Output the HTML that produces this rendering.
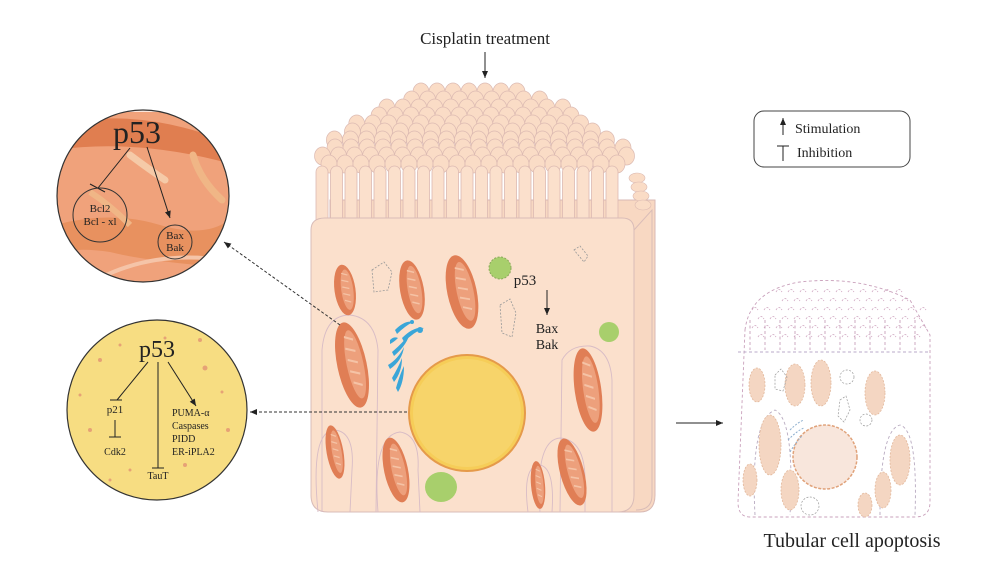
<!DOCTYPE html>
<html><head><meta charset="utf-8"><style>
html,body{margin:0;padding:0;background:#fff;width:998px;height:575px;overflow:hidden}
svg{display:block}
text{font-family:"Liberation Serif",serif;fill:#222}
</style></head><body>
<svg id="s" width="998" height="575" viewBox="0 0 998 575" xmlns="http://www.w3.org/2000/svg">
<defs>
<marker id="ah" markerWidth="8" markerHeight="8" refX="7" refY="4" orient="auto" markerUnits="userSpaceOnUse"><path d="M0,1 L7,4 L0,7 Z" fill="#222"/></marker>
<clipPath id="c1"><circle cx="143" cy="196" r="86"/></clipPath>
<g id="mito">
<ellipse cx="0" cy="0" rx="14" ry="30" fill="#e07e55"/>
<ellipse cx="3" cy="0" rx="8" ry="24" fill="#eda07c"/>
<path d="M-2,-20 l8,3 M-3,-12 l9,3 M-3,-4 l9,3 M-3,4 l9,3 M-2,12 l8,3" stroke="#f5c3a6" stroke-width="1.5"/>
</g>
</defs>

<text x="485" y="44" font-size="17" text-anchor="middle">Cisplatin treatment</text>
<line x1="485" y1="52" x2="485" y2="78" stroke="#222" stroke-width="1" marker-end="url(#ah)"/>

<path d="M330,200 L655,200 L655,495 Q655,512 640,512 L330,512 Z" fill="#f8d8c2" stroke="#d8b9b4"/>
<g id="villi"></g>
<path d="M311,230 Q311,218 325,218 L622,218 Q634,218 634,230 L634,495 Q634,512 618,512 L328,512 Q311,512 311,495 Z" fill="#fbe0cc" stroke="#d9bcb8"/>
<path d="M634,230 L652,210 L652,495 Q652,510 636,510" fill="none" stroke="#d9bcb8"/>
<g fill="none" stroke="#d8bcc6" stroke-width="0.9">
<path d="M322,512 L322,350 Q325,315 350,315 Q375,318 378,350 L376,512"/>
<path d="M318,512 Q310,430 335,430 Q355,432 352,470 L350,512"/>
<path d="M378,512 Q372,435 400,432 Q420,435 418,470 L420,512"/>
<path d="M560,512 L562,360 Q570,345 590,346 Q610,350 612,380 L612,512"/>
<path d="M540,512 Q535,440 560,438 Q585,440 585,480 L585,512"/>
<path d="M528,512 Q522,465 540,465 Q555,468 552,512"/>
</g>
<use href="#mito" transform="translate(345,290) rotate(-8) scale(0.75,0.85)"/>
<use href="#mito" transform="translate(412,290) rotate(-10) scale(0.85,1)"/>
<use href="#mito" transform="translate(462,292) rotate(-12) scale(1.05,1.25)"/>
<use href="#mito" transform="translate(352,365) rotate(-12) scale(1.05,1.45)"/>
<use href="#mito" transform="translate(588,390) rotate(-8) scale(0.95,1.4)"/>
<use href="#mito" transform="translate(335,452) rotate(-10) scale(0.6,0.9)"/>
<use href="#mito" transform="translate(396,470) rotate(-12) scale(0.85,1.1)"/>
<use href="#mito" transform="translate(572,472) rotate(-15) scale(0.85,1.15)"/>
<use href="#mito" transform="translate(538,485) rotate(-5) scale(0.5,0.8)"/>
<g fill="none" stroke="#999" stroke-width="0.8" stroke-dasharray="2,1.5">
<path d="M372,270 l12,-8 l8,10 l-4,18 l-14,2 z"/>
<path d="M500,305 l10,-6 l6,14 l-4,24 l-10,-4 z"/>
<path d="M574,250 l6,-4 l8,10 l-4,6 z"/>
</g>
<circle cx="500" cy="268" r="11" fill="#a8cf6c" stroke="#8aa85a" stroke-dasharray="2,1.5"/>
<circle cx="609" cy="332" r="10" fill="#a8cf6c"/>
<ellipse cx="441" cy="487" rx="16" ry="15" fill="#a8cf6c"/>
<g fill="#3aa6d8">
<path d="M395,330 q10,-10 18,-8 q-8,4 -16,12 z"/><path d="M402,338 q12,-12 22,-10 q-10,4 -20,14 z"/>
<path d="M390,340 q4,-4 8,-2 q-4,4 -8,6 z"/><path d="M392,352 q14,-12 18,-20 q-2,12 -16,24 z"/>
<path d="M388,365 q10,-6 16,-18 q-2,14 -14,22 z"/><path d="M392,378 q6,-10 10,-20 q0,14 -8,24 z"/>
<path d="M396,388 q4,-14 8,-22 q0,16 -6,26 z"/><circle cx="420" cy="330" r="3"/><circle cx="412" cy="322" r="2"/>
</g>
<circle cx="467" cy="413" r="58" fill="#f6cd58" stroke="#e59a4a" stroke-width="2"/>
<circle cx="467" cy="413" r="54" fill="#f7d46a"/>
<text x="525" y="285" font-size="15" text-anchor="middle">p53</text>
<line x1="547" y1="290" x2="547" y2="315" stroke="#222" marker-end="url(#ah)"/>
<text x="547" y="333" font-size="14" text-anchor="middle">Bax</text>
<text x="547" y="349" font-size="14" text-anchor="middle">Bak</text>

<line x1="340" y1="325" x2="224" y2="242" stroke="#333" stroke-dasharray="3,2" marker-end="url(#ah)"/>
<line x1="407" y1="412" x2="250" y2="412" stroke="#333" stroke-dasharray="3,2" marker-end="url(#ah)"/>

<g clip-path="url(#c1)">
<rect x="50" y="100" width="190" height="190" fill="#f0a27b"/>
<rect x="50" y="100" width="190" height="12" fill="#fbe6dc"/>
<path d="M55,125 Q140,105 235,145 L235,165 Q140,138 55,150 Z" fill="#e07e50"/>
<path d="M55,225 Q110,210 160,225 Q210,240 235,215 L235,268 Q150,262 110,252 Q70,246 55,256 Z" fill="#e8915f"/>
<path d="M100,278 Q160,248 235,262" stroke="#f5c4a8" stroke-width="4" fill="none"/>
<path d="M130,155 Q150,170 165,180" stroke="#f5caa8" stroke-width="7" fill="none" stroke-linecap="round"/>
<path d="M193,155 Q200,180 222,200" stroke="#f0b686" stroke-width="7" fill="none" stroke-linecap="round"/>
<path d="M90,192 Q110,205 130,225" stroke="#f0b686" stroke-width="6" fill="none"/>
</g>
<circle cx="143" cy="196" r="86" fill="none" stroke="#333" stroke-width="1.2"/>
<text x="137" y="143" font-size="32" text-anchor="middle">p53</text>
<line x1="130" y1="148" x2="98" y2="188" stroke="#222"/>
<line x1="90" y1="184" x2="105" y2="192" stroke="#222"/>
<line x1="147" y1="147" x2="170" y2="218" stroke="#222" marker-end="url(#ah)"/>
<circle cx="100" cy="215" r="27" fill="none" stroke="#333"/>
<text x="100" y="212" font-size="11" text-anchor="middle">Bcl2</text>
<text x="100" y="225" font-size="11" text-anchor="middle">Bcl - xl</text>
<circle cx="175" cy="242" r="17" fill="none" stroke="#333"/>
<text x="175" y="239" font-size="11" text-anchor="middle">Bax</text>
<text x="175" y="251" font-size="11" text-anchor="middle">Bak</text>

<circle cx="157" cy="410" r="90" fill="#f7dd82" stroke="#333" stroke-width="1.2"/>
<g fill="#e08a72" opacity="0.7">
<circle cx="100" cy="360" r="2"/><circle cx="120" cy="345" r="1.5"/><circle cx="205" cy="368" r="2.5"/><circle cx="222" cy="392" r="1.5"/><circle cx="90" cy="430" r="2"/><circle cx="185" cy="465" r="2"/><circle cx="130" cy="470" r="1.5"/><circle cx="228" cy="430" r="2"/><circle cx="80" cy="395" r="1.5"/><circle cx="165" cy="338" r="1.5"/><circle cx="200" cy="340" r="2"/><circle cx="110" cy="480" r="1.5"/>
</g>
<text x="157" y="357" font-size="24" text-anchor="middle">p53</text>
<line x1="148" y1="362" x2="117" y2="400" stroke="#222"/>
<line x1="110" y1="400" x2="122" y2="400" stroke="#222"/>
<line x1="158" y1="362" x2="158" y2="468" stroke="#222"/>
<line x1="152" y1="468" x2="164" y2="468" stroke="#222"/>
<line x1="168" y1="362" x2="196" y2="406" stroke="#222" marker-end="url(#ah)"/>
<text x="115" y="413" font-size="11" text-anchor="middle">p21</text>
<line x1="115" y1="420" x2="115" y2="437" stroke="#222"/>
<line x1="109" y1="437" x2="121" y2="437" stroke="#222"/>
<text x="115" y="455" font-size="10" text-anchor="middle">Cdk2</text>
<text x="158" y="479" font-size="10" text-anchor="middle">TauT</text>
<text x="172" y="416" font-size="10">PUMA-α</text>
<text x="172" y="429" font-size="10">Caspases</text>
<text x="172" y="442" font-size="10">PIDD</text>
<text x="172" y="455" font-size="10">ER-iPLA2</text>

<rect x="754" y="111" width="156" height="56" rx="10" fill="#fff" stroke="#444"/>
<line x1="783" y1="135" x2="783" y2="118" stroke="#222" marker-end="url(#ah)"/>
<text x="795" y="133" font-size="14">Stimulation</text>
<line x1="783" y1="146" x2="783" y2="161" stroke="#222"/><line x1="777" y1="146" x2="789" y2="146" stroke="#222"/>
<text x="797" y="157" font-size="14">Inhibition</text>

<line x1="676" y1="423" x2="723" y2="423" stroke="#222" marker-end="url(#ah)"/>

<g id="apo" fill="none" stroke-dasharray="3,2.5" stroke-width="0.9">
<path d="M745,330 Q750,290 800,282 Q860,275 910,300 L930,335 L930,502 Q930,517 915,517 L750,517 Q738,517 738,502 Z" stroke="#c9a0bb"/>
<path d="M738,352 L930,352" stroke="#b8a8c8"/>
<path d="M755,515 Q750,420 775,410 Q795,420 790,515" stroke="#b8aac0"/>
<path d="M880,515 Q880,430 900,425 Q918,430 915,515" stroke="#b8aac0"/>
</g>
<g fill="#f4d6c2" stroke="#e2b89c" stroke-width="0.8" stroke-dasharray="2,1.5">
<ellipse cx="757" cy="385" rx="8" ry="17"/><ellipse cx="795" cy="385" rx="10" ry="21"/><ellipse cx="821" cy="383" rx="10" ry="23"/>
<ellipse cx="875" cy="393" rx="10" ry="22"/><ellipse cx="770" cy="445" rx="11" ry="30"/><ellipse cx="900" cy="460" rx="10" ry="25"/>
<ellipse cx="750" cy="480" rx="7" ry="16"/><ellipse cx="790" cy="490" rx="9" ry="20"/><ellipse cx="883" cy="490" rx="8" ry="18"/><ellipse cx="865" cy="505" rx="7" ry="12"/>
</g>
<circle cx="825" cy="457" r="32" fill="#f8e6dc" stroke="#e0a27a" stroke-width="1.5" stroke-dasharray="3,1.5"/>
<g fill="none" stroke="#999" stroke-width="0.7" stroke-dasharray="2,1.5">
<circle cx="847" cy="377" r="7"/><circle cx="866" cy="420" r="6"/><circle cx="810" cy="506" r="9"/>
<path d="M775,375 l6,-6 l6,8 l-4,14 l-8,-2 z"/><path d="M840,400 l6,-4 l4,14 l-6,12 l-6,-6 z"/>
</g>
<g fill="none" stroke="#8fb0cf" stroke-width="1" stroke-dasharray="2,1.5"><path d="M790,430 q8,-8 14,-10 M788,440 q10,-10 16,-12 M790,452 q6,-10 12,-16"/></g>
<text x="852" y="547" font-size="20" text-anchor="middle">Tubular cell apoptosis</text>
</svg>
<script>
(function(){
var NS="http://www.w3.org/2000/svg",g=document.getElementById("villi"),a=document.getElementById("apo");
function el(t,at,p){var e=document.createElementNS(NS,t);for(var k in at)e.setAttribute(k,at[k]);p.appendChild(e);return e;}
for(var r=0;r<10;r++){
  var y=92+r*8;
  var t=r/9;
  var half=55+100*Math.sin(t*Math.PI/2);
  var cx=476;
  var off=(r%2)*8;
  for(var x=cx-half+off;x<=cx+half+0.1;x+=16){
    el("ellipse",{cx:x,cy:y,rx:8,ry:9,fill:"#fadcc6",stroke:"#dcbab2","stroke-width":0.7},g);
  }
}
for(var x=322;x<=624;x+=14.5){
  el("path",{d:"M"+(x-6)+",222 V"+(172)+" a6,6 0 0 1 12,0 V222",fill:"#fbe0cc",stroke:"#dcbab2","stroke-width":0.8},g);
}
for(var i=0;i<4;i++){
  el("ellipse",{cx:637+i*2,cy:178+i*9,rx:8,ry:5,fill:"#fadcc6",stroke:"#dcbab2","stroke-width":0.6},g);
}
for(var r=0;r<6;r++){
  var y=292+r*9;
  for(var x=752+(r%2)*6;x<925;x+=12){
    if(r<2 && (x<775||x>905))continue;
    el("path",{d:"M"+x+","+y+" q3,-5 6,0",stroke:"#cfa6c0","stroke-width":0.8,fill:"none","stroke-dasharray":"2,1.5"},a);
  }
}
for(var x=750;x<=920;x+=15){
  el("line",{x1:x,y1:320,x2:x,y2:350,stroke:"#c9a0bb","stroke-dasharray":"3,2.5"},a);
}
})();
</script>
</body></html>
